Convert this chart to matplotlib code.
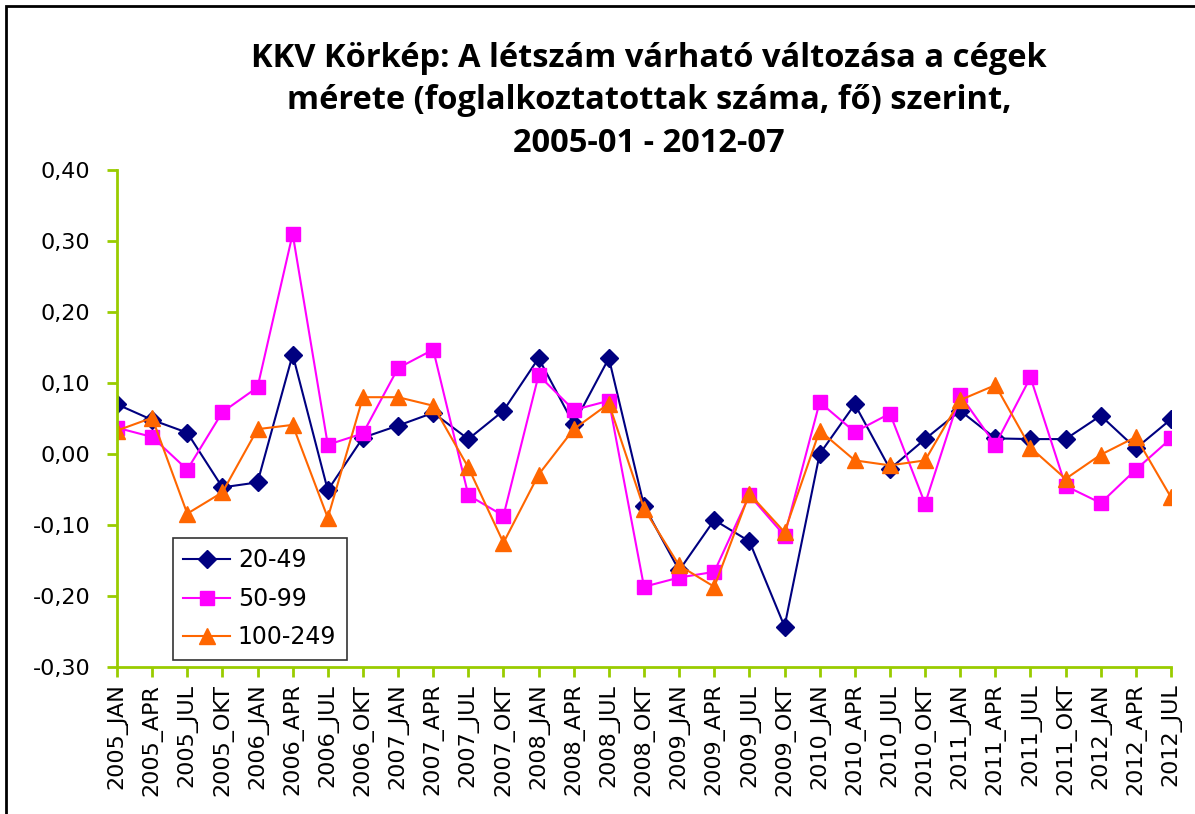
import matplotlib
matplotlib.use("Agg")
from matplotlib import pyplot as plt
from matplotlib import patches

years = ["2005", "2006", "2007", "2008", "2009", "2010", "2011", "2012"]
quarters = ["JAN", "APR", "JUL", "OKT"]
labels = [y + "_" + q for y in years for q in quarters][:31]

s_20_49 = [0.070, 0.048, 0.030, -0.047, -0.040, 0.140, -0.051, 0.023,
           0.040, 0.058, 0.021, 0.061, 0.135, 0.042, 0.135, -0.073,
           -0.164, -0.093, -0.123, -0.243, 0.000, 0.070, -0.021, 0.021,
           0.061, 0.022, 0.021, 0.021, 0.054, 0.008, 0.049]
s_50_99 = [0.037, 0.024, -0.022, 0.059, 0.094, 0.310, 0.013, 0.029,
           0.121, 0.147, -0.058, -0.087, 0.111, 0.062, 0.075, -0.187,
           -0.174, -0.166, -0.058, -0.115, 0.073, 0.031, 0.057, -0.070,
           0.083, 0.013, 0.108, -0.045, -0.069, -0.022, 0.022]
s_100_249 = [0.033, 0.051, -0.084, -0.054, 0.035, 0.041, -0.090, 0.080,
             0.080, 0.068, -0.019, -0.125, -0.029, 0.035, 0.071, -0.077,
             -0.157, -0.187, -0.056, -0.110, 0.033, -0.009, -0.016, -0.009,
             0.076, 0.097, 0.009, -0.035, -0.001, 0.024, -0.061]
yticks = [-0.30, -0.20, -0.10, 0.00, 0.10, 0.20, 0.30, 0.40]

green = "#99CC00"
fig = plt.figure(figsize=(11.95, 8.14), dpi=100)
ax = fig.add_axes([117 / 1195, 1 - 667 / 814, (1171 - 117) / 1195, (667 - 170) / 814])

x = list(range(len(labels)))
ax.plot(x, s_20_49, color="#000080", lw=1.5, marker="D", ms=9.5, label="20-49")
ax.plot(x, s_50_99, color="#FF00FF", lw=1.5, marker="s", ms=10, label="50-99")
ax.plot(x, s_100_249, color="#FF6600", lw=1.5, marker="^", ms=12, label="100-249")

ax.set_xlim(0, len(labels) - 1)
ax.set_ylim(-0.30, 0.40)
ax.set_yticks(yticks)
ax.set_yticklabels([("%.2f" % v).replace(".", ",") for v in yticks], fontsize=16)
ax.set_xticks(x)
ax.set_xticklabels(labels, rotation=90, fontsize=16)
for s in ["top", "right"]:
    ax.spines[s].set_visible(False)
for s in ["left", "bottom"]:
    ax.spines[s].set_color(green)
    ax.spines[s].set_linewidth(2)
ax.tick_params(colors=green, width=2, length=7, labelcolor="black")
ax.tick_params(axis="y", pad=12)
ax.tick_params(axis="x", pad=5)

leg = ax.legend(loc="lower left", bbox_to_anchor=(0.053, 0.014), fontsize=17,
                frameon=True, fancybox=False, edgecolor="black",
                handlelength=1.95, handletextpad=0.35, labelspacing=0.62,
                borderpad=0.45, borderaxespad=0)
leg.get_frame().set_linewidth(1.2)

fig.text(0.543, 0.949, "KKV Körkép: A létszám várható változása a cégek\n"
         "mérete (foglalkoztatottak száma, fő) szerint,\n2005-01 - 2012-07",
         ha="center", va="top", fontsize=23.5, fontweight="bold",
         family="Open Sans", linespacing=1.38)

# outer chart border
fig.add_artist(patches.Rectangle((6 / 1195, -0.1), 1.2, 1 - 6 / 814 + 0.1,
                                 transform=fig.transFigure, fill=False,
                                 edgecolor="black", lw=2))

plt.savefig("out.png", dpi=100)
